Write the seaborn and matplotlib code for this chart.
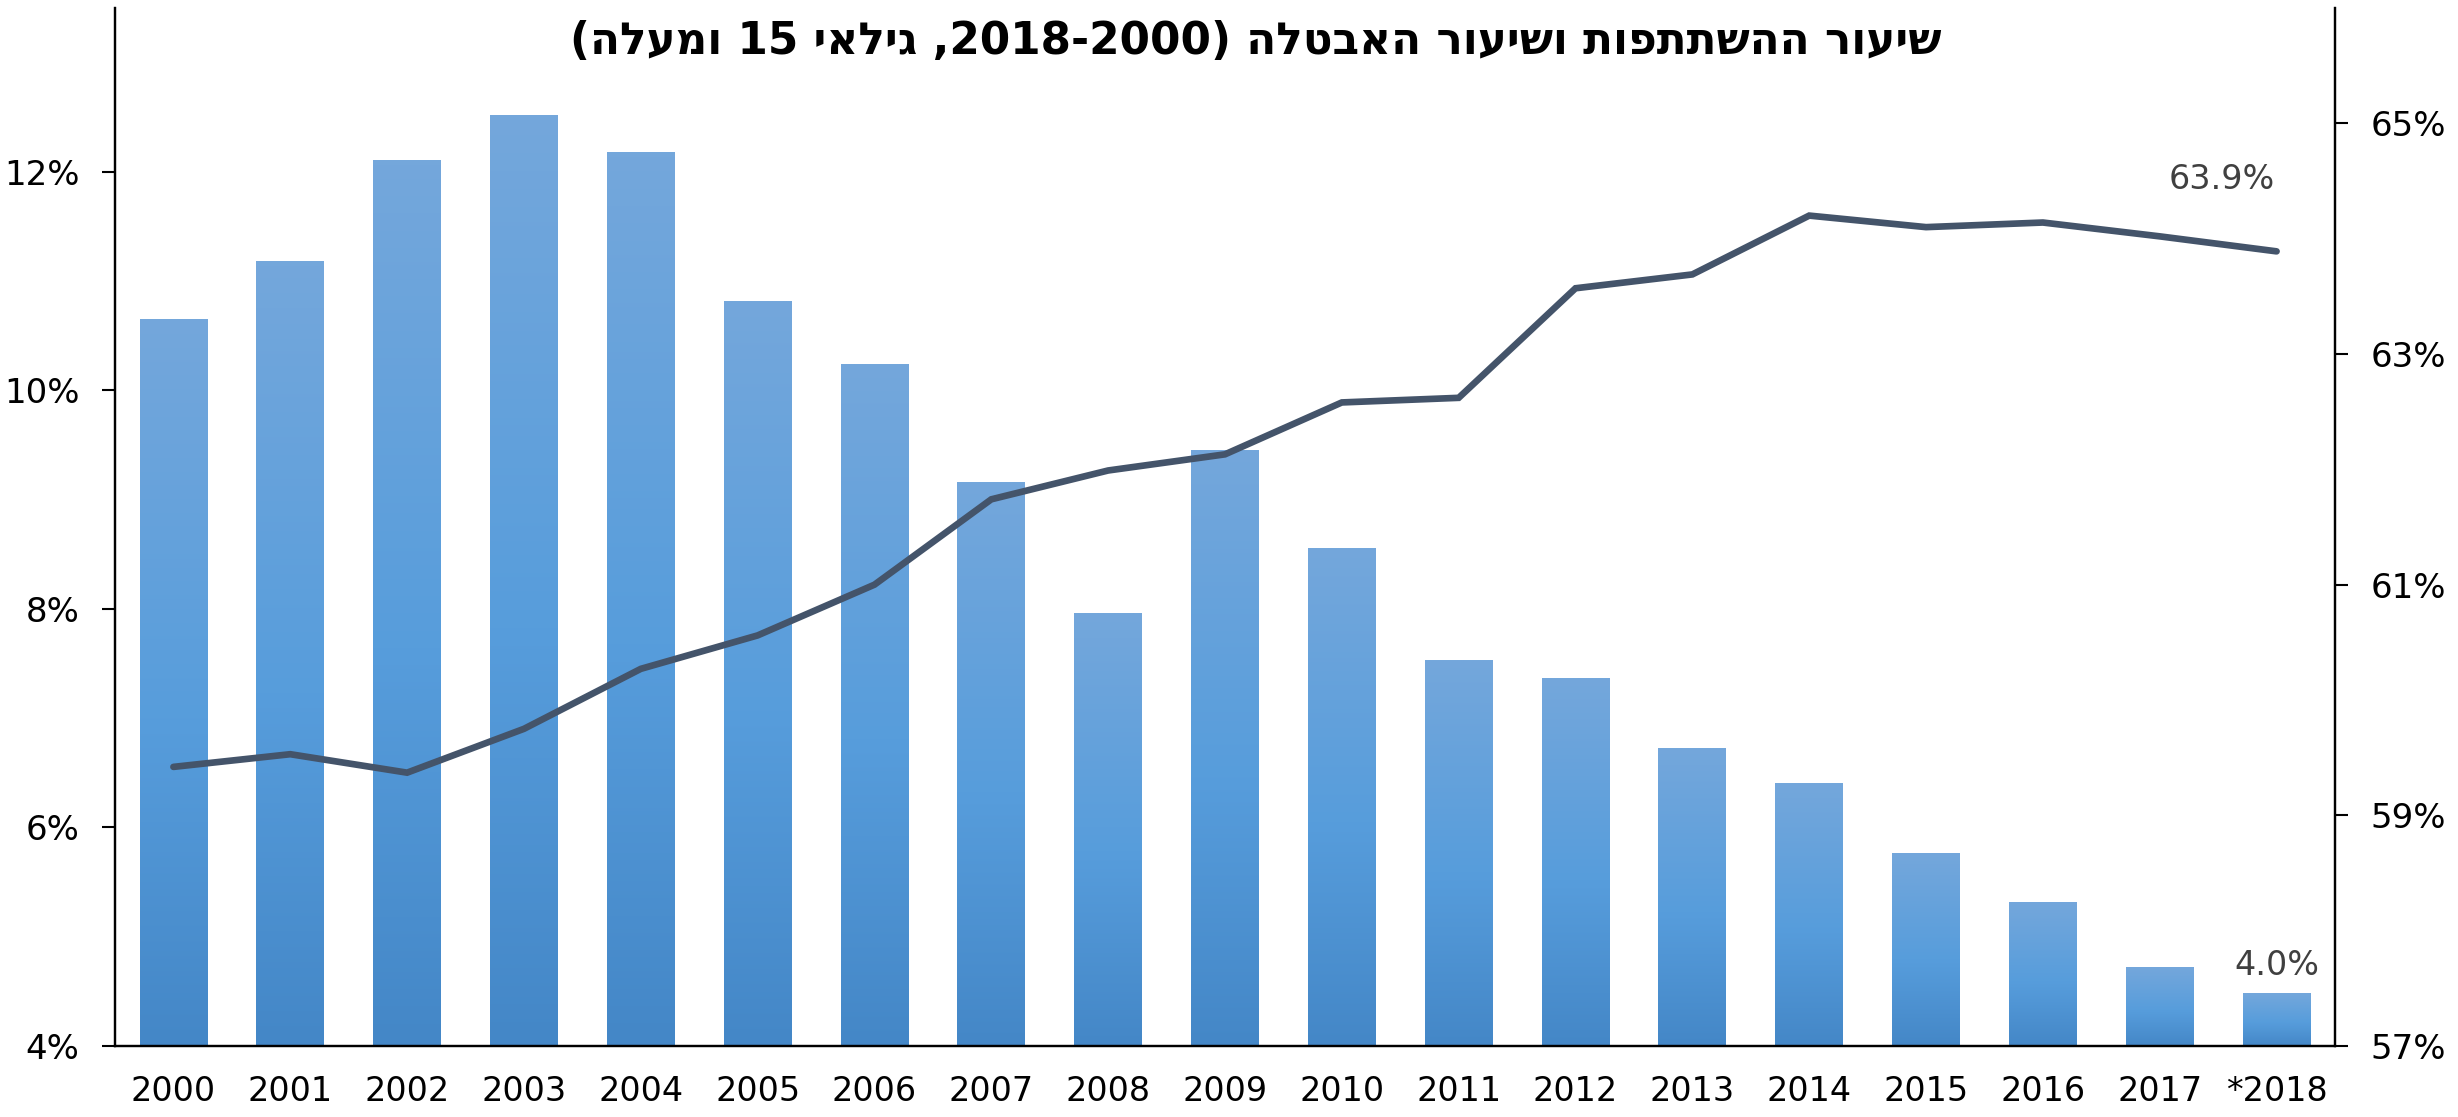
import numpy as np
import pandas as pd
import matplotlib
matplotlib.use("Agg")
import matplotlib.pyplot as plt
from matplotlib.colors import LinearSegmentedColormap
import seaborn as sns

# ---------------- data ----------------
years = ["2000", "2001", "2002", "2003", "2004", "2005", "2006", "2007", "2008", "2009",
         "2010", "2011", "2012", "2013", "2014", "2015", "2016", "2017", "*2018"]
unemployment = [10.65, 11.18, 12.10, 12.52, 12.18, 10.81, 10.24, 9.16, 7.96, 9.45,
                8.55, 7.53, 7.36, 6.72, 6.40, 5.76, 5.31, 4.72, 4.48]
participation = [59.42, 59.53, 59.37, 59.75, 60.27, 60.56, 61.00, 61.74, 61.99, 62.13,
                 62.58, 62.62, 63.57, 63.69, 64.20, 64.10, 64.14, 64.02, 63.89]
left_ticks = [4, 6, 8, 10, 12]
right_ticks = [57, 59, 61, 63, 65]
label_part = "63.9%"
label_unemp = "4.0%"
title_logical = "שיעור ההשתתפות ושיעור האבטלה (2000-2018, גילאי 15 ומעלה)"


def rev(s):
    return s[::-1]

# visual (left-to-right) order of the RTL title
title_visual = ("(" + rev("ומעלה") + " 15 " + rev("גילאי") + " ,2018-2000) "
                + rev("האבטלה") + " " + rev("ושיעור") + " " + rev("ההשתתפות") + " " + rev("שיעור"))

df = pd.DataFrame({"year": years, "unemp": unemployment, "part": participation,
                   "pos": np.arange(len(years))})

# ---------------- style ----------------
sns.set_theme(style="white")
plt.rcParams["font.family"] = ["DejaVu Sans"]

fig = plt.figure(figsize=(24.58, 11.17), dpi=100)
ax = fig.add_axes([115 / 2458, 71 / 1117, (2335 - 115) / 2458, (1046 - 8) / 1117])

sns.barplot(data=df, x="year", y="unemp", ax=ax, color="#5B9EDC", width=0.58,
            saturation=1, zorder=2)

# gradient fill for each bar
cmap = LinearSegmentedColormap.from_list(
    "bar", [(0.0, "#4487C7"), (0.45, "#579DDC"), (1.0, "#74A7DB")])
grad = np.linspace(0, 1, 256).reshape(-1, 1)
for p in ax.patches:
    x0, y0 = p.get_x(), p.get_y()
    w, h = p.get_width(), p.get_height()
    ax.imshow(grad, extent=[x0, x0 + w, 4, y0 + h], origin="lower", aspect="auto",
              cmap=cmap, zorder=2.5, interpolation="bilinear")
    p.set_facecolor("none")
    p.set_edgecolor("none")

ax.set_xlim(-0.5, len(years) - 0.5)
ax.set_ylim(4, 13.5)
ax.set_yticks(left_ticks)
ax.set_yticklabels([f"{t}%" for t in left_ticks])
ax.set_xlabel("")
ax.set_ylabel("")

ax2 = ax.twinx()
sns.lineplot(data=df, x="pos", y="part", ax=ax2, color="#44546A", linewidth=4.8,
             solid_capstyle="round", solid_joinstyle="miter", zorder=5)
ax2.set_xlim(-0.5, len(years) - 0.5)
ax2.set_ylim(57, 66)
ax2.set_yticks(right_ticks)
ax2.set_yticklabels([f"{t}%" for t in right_ticks])
ax2.set_xlabel("")
ax2.set_ylabel("")
ax2.grid(False)
ax.grid(False)

for a in (ax, ax2):
    for s in a.spines.values():
        s.set_color("black")
        s.set_linewidth(1.6)
    a.spines["top"].set_visible(False)

ax.tick_params(axis="y", which="both", left=True, length=9.5, width=1.5, direction="out",
               labelsize=24.5, pad=16, colors="black")
ax.tick_params(axis="x", length=0, labelsize=24, pad=21, colors="black")
ax2.tick_params(axis="y", which="both", right=True, length=9.5, width=1.5, direction="out",
                labelsize=24.5, pad=16, colors="black")

# data labels
ax2.annotate(label_part, xy=(len(years) - 1, participation[-1]), xytext=(-55, 72),
             textcoords="offset pixels", ha="center", va="center", fontsize=24,
             color="#404040")
ax.annotate(label_unemp, xy=(len(years) - 1, unemployment[-1]), xytext=(0, 28),
            textcoords="offset pixels", ha="center", va="center", fontsize=24,
            color="#404040", zorder=6)

fig.text(0.5107, 0.963, title_visual, ha="center", va="center", fontsize=31.5,
         fontweight="bold", color="black")

fig.savefig("out.png", dpi=100)
